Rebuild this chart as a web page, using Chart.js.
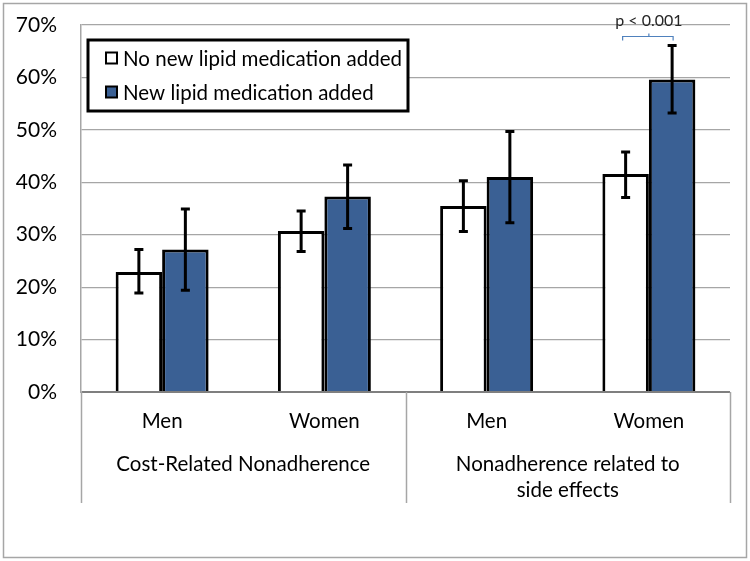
<!DOCTYPE html>
<html lang="en">

<head>
    <meta charset="UTF-8">
    <title>Lipid medication nonadherence</title>
    <script src="https://cdn.jsdelivr.net/npm/chart.js"></script>
    <style>
        body {
            margin: 0;
            background: white;
        }

        #wrap {
            width: 750px;
            height: 561px;
        }
    </style>
</head>

<body>
    <div id="wrap"><canvas id="mycanvas"></canvas></div>

    <script type="text/javascript">
        // data (percent)
        const categories = ['Men', 'Women', 'Men', 'Women'];
        const groupLabels = [['Cost-Related Nonadherence'], ['Nonadherence related to', 'side effects']];
        const groupSpans = [[0, 1], [2, 3]];
        const seriesNames = ['No new lipid medication added', 'New lipid medication added'];
        const noNewMed = [22.9, 30.7, 35.5, 41.6];
        const noNewMedLow = [18.9, 26.8, 30.6, 37.1];
        const noNewMedHigh = [27.2, 34.5, 40.3, 45.8];
        const newMed = [27.2, 37.3, 41.0, 59.6];
        const newMedLow = [19.4, 31.2, 32.3, 53.2];
        const newMedHigh = [34.9, 43.3, 49.7, 66.1];
        const yMax = 70;
        const yStep = 10;
        const pLabel = 'p < 0.001';
        const pIndex = 3;

        const FONT = 'Lato, "Open Sans", sans-serif';

        const extras = {
            id: 'extras',
            beforeDraw(chart) {
                const ctx = chart.ctx;
                ctx.save();
                ctx.fillStyle = 'white';
                ctx.fillRect(0, 0, chart.width, chart.height);
                ctx.strokeStyle = '#a6a6a6';
                ctx.lineWidth = 1.5;
                ctx.strokeRect(3.5, 3.5, chart.width - 7, chart.height - 7);
                ctx.restore();
            },
            afterDatasetsDraw(chart) {
                const ctx = chart.ctx;
                const y = chart.scales.y;
                const ranges = [[noNewMedLow, noNewMedHigh], [newMedLow, newMedHigh]];
                ctx.save();
                ctx.strokeStyle = 'black';
                ctx.lineWidth = 3;
                chart.data.datasets.forEach((ds, di) => {
                    const meta = chart.getDatasetMeta(di);
                    meta.data.forEach((bar, i) => {
                        const top = y.getPixelForValue(ranges[di][1][i]);
                        const bot = y.getPixelForValue(ranges[di][0][i]);
                        ctx.beginPath();
                        ctx.moveTo(bar.x, top);
                        ctx.lineTo(bar.x, bot);
                        ctx.moveTo(bar.x - 4.5, top);
                        ctx.lineTo(bar.x + 4.5, top);
                        ctx.moveTo(bar.x - 4.5, bot);
                        ctx.lineTo(bar.x + 4.5, bot);
                        ctx.stroke();
                    });
                });
                ctx.restore();
            },
            afterDraw(chart) {
                const ctx = chart.ctx;
                const x = chart.scales.x;
                const y = chart.scales.y;
                const area = chart.chartArea;
                const lineBottom = 503;

                ctx.save();
                // multi-level axis separators
                ctx.strokeStyle = '#a6a6a6';
                ctx.lineWidth = 1.5;
                const seps = [area.left, (x.getPixelForValue(1) + x.getPixelForValue(2)) / 2, area.right];
                seps.forEach(sx => {
                    ctx.beginPath();
                    ctx.moveTo(Math.round(sx) + 0.5, area.bottom);
                    ctx.lineTo(Math.round(sx) + 0.5, lineBottom);
                    ctx.stroke();
                });

                // group labels
                ctx.fillStyle = 'black';
                ctx.font = '20.5px ' + FONT;
                ctx.textAlign = 'center';
                ctx.textBaseline = 'middle';
                groupLabels.forEach((lines, gi) => {
                    const cx = (x.getPixelForValue(groupSpans[gi][0]) + x.getPixelForValue(groupSpans[gi][1])) / 2;
                    lines.forEach((t, li) => ctx.fillText(t, cx, 464 + li * 26));
                });

                // legend
                ctx.fillStyle = 'white';
                ctx.fillRect(88, 40, 320, 71);
                ctx.strokeStyle = 'black';
                ctx.lineWidth = 3;
                ctx.strokeRect(88, 40, 320, 71);
                ctx.font = '20.5px ' + FONT;
                ctx.textAlign = 'left';
                chart.data.datasets.forEach((ds, i) => {
                    const ly = 58 + i * 34;
                    ctx.fillStyle = ds.backgroundColor;
                    ctx.fillRect(106, ly - 5.5, 11, 11);
                    ctx.lineWidth = 2;
                    ctx.strokeRect(106, ly - 5.5, 11, 11);
                    ctx.fillStyle = 'black';
                    ctx.fillText(ds.label, 123, ly + 1);
                });

                // significance bracket
                const b0 = chart.getDatasetMeta(0).data[pIndex];
                const b1 = chart.getDatasetMeta(1).data[pIndex];
                const topErr = Math.min(y.getPixelForValue(noNewMedHigh[pIndex]), y.getPixelForValue(newMedHigh[pIndex]));
                const by = Math.round(topErr - 9) + 0.5;
                const mx = (b0.x + b1.x) / 2;
                ctx.strokeStyle = '#4f81bd';
                ctx.lineWidth = 1.2;
                ctx.beginPath();
                ctx.moveTo(b0.x - 3, by + 4);
                ctx.lineTo(b0.x - 3, by);
                ctx.lineTo(b1.x + 1, by);
                ctx.lineTo(b1.x + 1, by + 4);
                ctx.moveTo(mx, by);
                ctx.lineTo(mx, by - 3);
                ctx.stroke();
                ctx.fillStyle = '#262626';
                ctx.font = '16px ' + FONT;
                ctx.textAlign = 'center';
                ctx.fillText(pLabel, mx, by - 16);
                ctx.restore();
            }
        };

        const chartData = {
            labels: categories,
            datasets: [{
                label: seriesNames[0],
                data: noNewMed,
                backgroundColor: '#ffffff',
                borderColor: '#000000',
                borderWidth: 3
            }, {
                label: seriesNames[1],
                data: newMed,
                backgroundColor: '#3a6094',
                borderColor: '#000000',
                borderWidth: 3
            }]
        };

        const ctx = document.getElementById('mycanvas').getContext('2d');

        new Chart(ctx, {
            type: 'bar',
            data: chartData,
            plugins: [extras],
            options: {
                responsive: true,
                maintainAspectRatio: false,
                animation: false,
                devicePixelRatio: 1,
                categoryPercentage: 0.573,
                barPercentage: 1,
                layout: {
                    padding: { top: 25, right: 20, left: 0, bottom: 0 }
                },
                plugins: {
                    legend: { display: false },
                    tooltip: { enabled: false }
                },
                scales: {
                    x: {
                        afterFit: scale => {
                            scale.height = 169;
                            scale.paddingLeft = 0;
                            scale.paddingRight = 0;
                        },
                        grid: { display: false },
                        border: { display: false },
                        ticks: {
                            color: 'black',
                            padding: 9,
                            font: { family: FONT, size: 20.5 }
                        }
                    },
                    y: {
                        min: 0,
                        max: yMax,
                        afterFit: scale => {
                            scale.width = 81;
                            scale.paddingTop = 0;
                            scale.paddingBottom = 0;
                        },
                        grid: {
                            drawTicks: false,
                            color: c => c.tick && c.tick.value === 0 ? '#7f7f7f' : '#a6a6a6',
                            lineWidth: c => c.tick && c.tick.value === 0 ? 2 : 1.2
                        },
                        border: { color: '#a6a6a6', width: 1.5 },
                        ticks: {
                            stepSize: yStep,
                            color: 'black',
                            padding: 24,
                            font: { family: FONT, size: 21 },
                            callback: v => v + '%'
                        }
                    }
                }
            }
        });
    </script>

</body>

</html>
